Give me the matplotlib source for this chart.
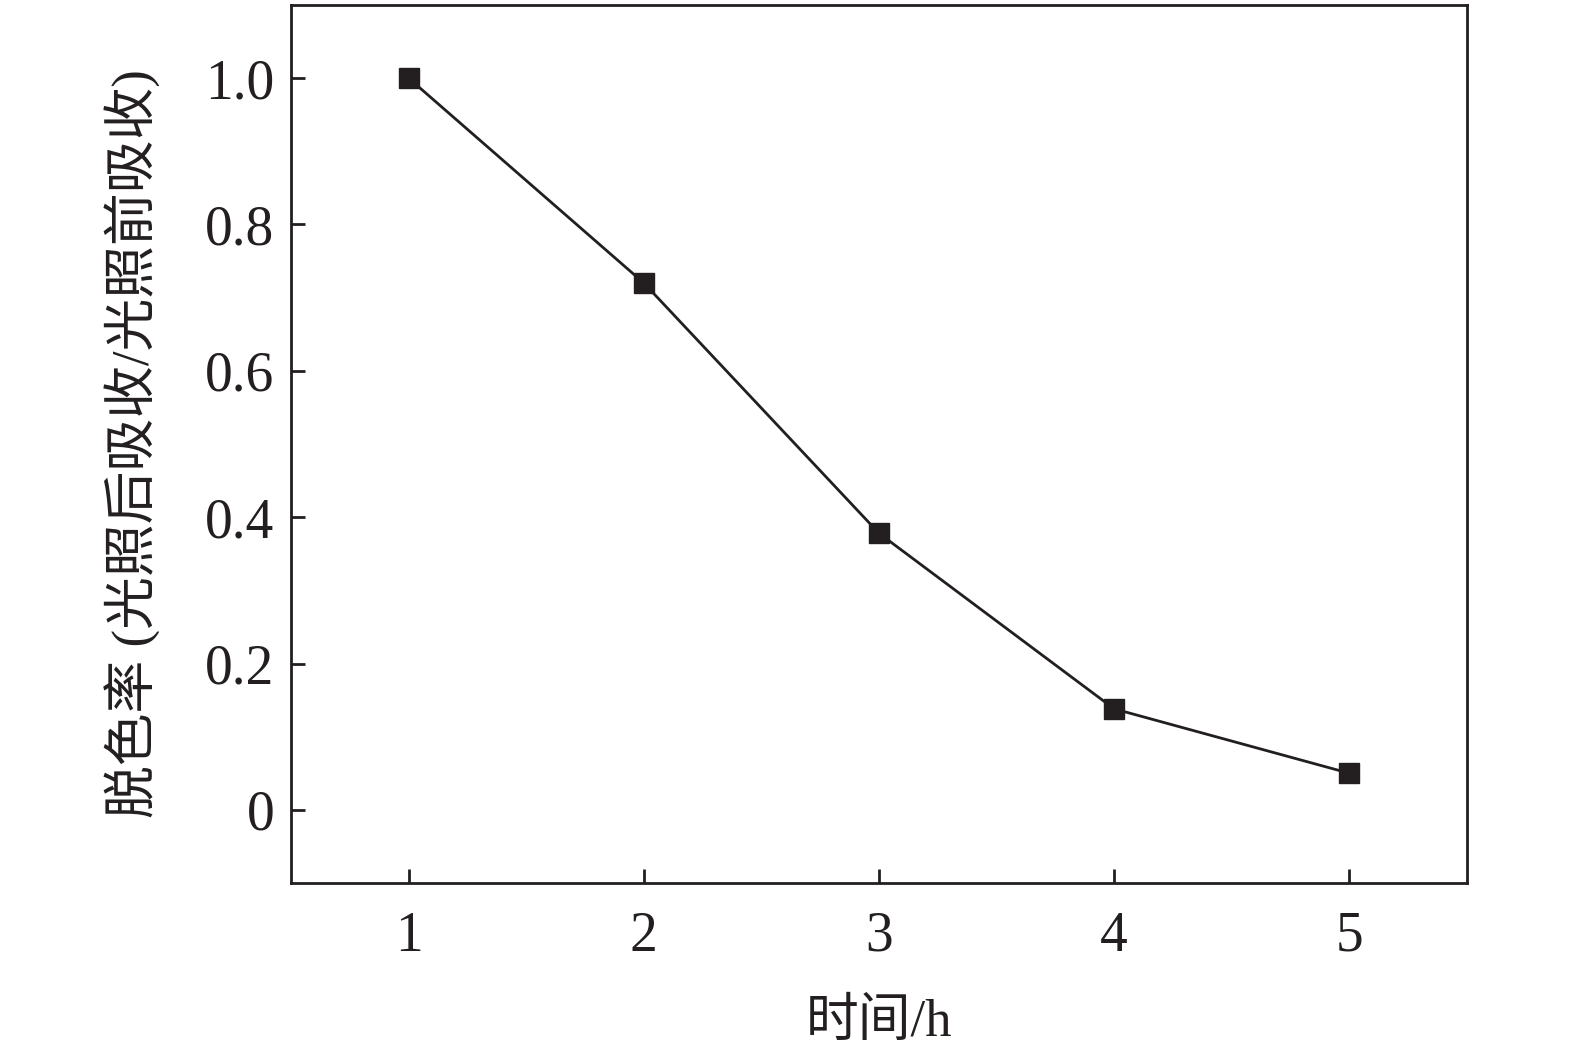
import matplotlib
matplotlib.use('Agg')
import matplotlib.pyplot as plt
from matplotlib.ticker import FuncFormatter

plt.rcParams['font.family'] = ['Liberation Serif', 'Noto Sans CJK SC']

hours = [1, 2, 3, 4, 5]
decolor_rate = [1.0, 0.72, 0.378, 0.138, 0.05]
y_ticks = [0, 0.2, 0.4, 0.6, 0.8, 1.0]
y_tick_labels = ['0', '0.2', '0.4', '0.6', '0.8', '1.0']


def generate_plot():
    fig = plt.figure(figsize=(15.75, 10.56), dpi=100)
    ax = fig.add_axes([0.1848, 0.1638, 0.7466, 0.8315])
    ax.plot(hours, decolor_rate, color='#231f20', linewidth=2,
            marker='s', markersize=14.5, markerfacecolor='#231f20',
            markeredgecolor='#231f20')
    ax.set_xlim(0.5, 5.5)
    ax.set_ylim(-0.1, 1.1)
    ax.set_xticks(hours)
    ax.set_yticks(y_ticks)
    ax.yaxis.set_major_formatter(
        FuncFormatter(lambda v, pos: y_tick_labels[pos] if pos is not None and pos < len(y_tick_labels) else ''))
    ax.tick_params(direction='in', length=10, width=2, labelsize=40,
                   colors='#231f20', top=False, right=False)
    ax.tick_params(axis='x', pad=20)
    ax.tick_params(axis='y', pad=12)
    for s in ax.spines.values():
        s.set_linewidth(2)
        s.set_color('#231f20')
    ax.set_xlabel('时间/h', fontsize=38, color='#231f20', labelpad=26)
    ax.set_ylabel('脱色率 (光照后吸收/光照前吸收)', fontsize=38,
                  color='#231f20', labelpad=32)
    fig.savefig('out.png', dpi=100)


if __name__ == '__main__':
    generate_plot()
